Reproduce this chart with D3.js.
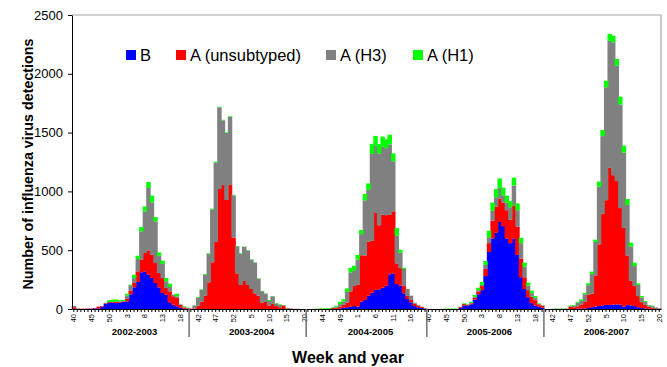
<!DOCTYPE html>
<html>
<head>
<meta charset="utf-8">
<script src="https://cdn.jsdelivr.net/npm/d3@7"></script>
<style>
  body { margin: 0; background: #fff; }
  svg { font-family: Arial, "Liberation Sans", sans-serif; }
</style>
</head>
<body>
<div id="chart"></div>
<script>
// seasons run from week 40 to week 20 of the next year
const seasons = ["2002-2003", "2003-2004", "2004-2005", "2005-2006", "2006-2007"];
const weeksInFirstYear = [52, 52, 53, 52, 52];
const yTicks = [0, 500, 1000, 1500, 2000, 2500];

// detections per week (one row of numbers per season)
const fluB = [
  0,0,0,0,2,3,5,5,20,45, 55,55,50,55,60,65,125,184,230,312, 320,292,264,221,184,136,122,57,37,23, 10,3,2,
  0,0,0,0,0,0,0,0,0,0, 0,0,0,0,0,0,0,0,0,0, 0,0,0,0,0,0,0,0,0,0, 0,0,0,
  0,0,0,0,0,0,0,0,2,5, 10,15,20,25,20,62,77,113,139,162, 167,181,198,295,303,212,198,133,85,57, 25,15,8,3,
  0,0,0,0,0,0,0,0,0,10, 30,30,40,80,125,160,280,485,600,650, 740,705,600,560,600,460,270,170,100,50, 30,20,10,
  0,0,0,0,0,0,0,0,0,3, 4,5,8,15,20,25,30,35,35,38, 38,38,20,35,30,25,15,8,5,3, 2,1,0
];
const fluA = [
  15,3,2,2,2,2,2,15,5,5, 5,5,10,5,5,20,30,37,90,108, 156,207,198,170,122,127,57,93,71,71, 25,10,5,
  3,5,28,62,113,227,397,570,1020,1054, 927,1054,606,303,204,238,204,170,133,113, 54,60,28,48,25,15,30,5,3,1, 1,0,0,
  0,0,0,0,0,0,2,8,10,15, 25,40,130,170,185,395,377,460,440,660, 545,620,600,505,528,176,150,62,26,20, 22,15,8,3,
  0,0,0,0,0,0,0,0,0,8, 12,5,8,15,25,35,60,75,150,220, 200,200,240,200,280,240,160,100,60,55, 45,20,18,
  0,0,0,0,0,2,2,20,15,20, 35,55,115,115,265,525,780,890,1165,1100, 1050,820,670,420,210,170,95,50,30,18, 10,5,3
];
const fluH3 = [
  12,2,0,0,0,0,0,0,0,0, 0,0,5,5,2,30,47,42,105,240, 354,530,445,354,147,120,57,37,14,14, 5,5,3,
  2,25,70,100,180,240,450,675,695,550, 570,580,360,230,266,290,293,250,262,145, 97,70,40,60,22,20,2,2,2,1, 0,0,0,
  0,0,0,0,0,0,0,3,8,22, 30,90,160,135,215,180,470,440,740,570, 610,580,570,600,425,235,130,145,59,36, 5,3,3,0,
  0,0,0,0,2,0,0,0,0,0, 0,2,4,8,10,10,35,50,85,80, 90,60,65,105,170,140,130,90,40,30, 20,3,4,
  0,0,2,2,0,0,0,5,12,30, 30,65,80,170,285,490,660,960,1080,1130, 980,880,640,430,290,170,95,40,25,10, 13,6,3
];
const fluH1 = [
  0,0,0,0,0,0,0,0,0,3, 15,20,15,10,10,15,5,28,28,37, 42,51,57,37,28,28,28,28,0,22, 0,5,3,
  0,2,5,5,5,6,6,8,5,5, 5,5,5,3,5,3,3,3,3,3, 3,3,8,2,4,5,2,3,0,0, 0,0,0,
  0,0,2,3,5,5,5,3,8,18, 18,30,40,38,40,35,55,55,85,80, 80,85,75,82,67,65,25,10,0,0, 2,1,1,0,
  0,0,0,0,0,3,3,3,3,2, 6,5,10,16,21,25,33,56,70,70, 80,67,58,53,67,58,46,34,24,21, 15,5,2,
  0,0,0,2,3,3,2,5,6,8, 12,12,15,18,20,43,52,56,58,56, 57,67,59,50,34,29,13,12,8,3, 3,2,0
];

const seriesNames = ["B", "A (unsubtyped)", "A (H3)", "A (H1)"];
const seriesColors = ["#0000ff", "#ff0000", "#808080", "#00ff00"];

// week number labels for every bar
const weeks = [];
const seasonStart = [];
weeksInFirstYear.forEach(n => {
  seasonStart.push(weeks.length);
  for (let w = 40; w <= n; w++) weeks.push(w);
  for (let w = 1; w <= 20; w++) weeks.push(w);
});
seasonStart.push(weeks.length);

const width = 667, height = 367;
const margin = { top: 15, right: 6, bottom: 58, left: 72 };

const svg = d3.select("#chart").append("svg")
  .attr("width", width)
  .attr("height", height);

const x = d3.scaleBand()
  .domain(d3.range(weeks.length))
  .range([margin.left, width - margin.right])
  .padding(0);

const y = d3.scaleLinear()
  .domain([0, 2500])
  .range([height - margin.bottom, margin.top]);

// grey frame on top and right
svg.append("path")
  .attr("d", `M${x.range()[0]},${y(2500)}H${x.range()[1]}V${y(0)}`)
  .attr("fill", "none")
  .attr("stroke", "#a8a8a8")
  .attr("stroke-width", 1.2);

// stacked bars
const rows = weeks.map((w, i) => ({ i: i, s0: fluB[i], s1: fluA[i], s2: fluH3[i], s3: fluH1[i] }));
const keys = ["s0", "s1", "s2", "s3"];
const stacked = d3.stack().keys(keys)(rows);

svg.append("g")
  .selectAll("g")
  .data(stacked)
  .join("g")
  .attr("fill", (d, k) => seriesColors[k])
  .selectAll("rect")
  .data(d => d)
  .join("rect")
  .attr("x", d => x(d.data.i) - 0.3)
  .attr("width", x.bandwidth() + 0.9)
  .attr("y", d => y(d[1]))
  .attr("height", d => y(d[0]) - y(d[1]));

// x axis with week labels every 5 weeks
const xAxis = d3.axisBottom(x)
  .tickSize(3)
  .tickSizeOuter(0)
  .tickFormat(i => (i % 5 === 0 ? weeks[i] : ""));

svg.append("g")
  .attr("transform", `translate(0,${y(0)})`)
  .call(xAxis)
  .call(g => g.selectAll("text")
    .attr("transform", "rotate(-90)")
    .attr("x", -5)
    .attr("y", 0)
    .attr("dy", "0.35em")
    .style("text-anchor", "end")
    .attr("font-size", 7.5)
    .attr("font-family", "Arial, 'Liberation Sans', sans-serif"));

// y axis
svg.append("g")
  .attr("transform", `translate(${x.range()[0]},0)`)
  .call(d3.axisLeft(y).tickValues(yTicks).tickFormat(d3.format("d"))
    .tickSize(4).tickSizeOuter(0).tickPadding(5))
  .call(g => g.selectAll("text")
    .attr("font-size", 13)
    .attr("fill", "#000")
    .attr("font-family", "Arial, 'Liberation Sans', sans-serif"));

// season separators and labels
svg.append("g")
  .selectAll("line")
  .data(seasonStart.slice(1, -1))
  .join("line")
  .attr("x1", d => x(d))
  .attr("x2", d => x(d))
  .attr("y1", y(0))
  .attr("y2", y(0) + 28)
  .attr("stroke", "#707070")
  .attr("stroke-width", 1.5);

svg.append("g")
  .selectAll("text")
  .data(seasons)
  .join("text")
  .attr("x", (d, k) => (x(seasonStart[k]) + x(seasonStart[k + 1] - 1) + x.bandwidth()) / 2 + 4)
  .attr("y", y(0) + 26)
  .attr("text-anchor", "middle")
  .attr("font-size", 9.5)
  .attr("font-weight", "bold")
  .text(d => d);

// axis titles
svg.append("text")
  .attr("transform", `translate(33,${(y(0) + y(2500)) / 2 + 2}) rotate(-90)`)
  .attr("text-anchor", "middle")
  .attr("font-size", 14.3)
  .attr("font-weight", "bold")
  .text("Number of influenza virus detections");

svg.append("text")
  .attr("x", 348)
  .attr("y", 363)
  .attr("text-anchor", "middle")
  .attr("font-size", 16)
  .attr("font-weight", "bold")
  .text("Week and year");

// legend
const legendX = [126, 176, 326, 413];
const legend = svg.append("g")
  .selectAll("g")
  .data(seriesNames)
  .join("g")
  .attr("transform", (d, k) => `translate(${legendX[k]},50)`);
legend.append("rect")
  .attr("width", 10)
  .attr("height", 10)
  .attr("fill", (d, k) => seriesColors[k]);
legend.append("text")
  .attr("x", 14)
  .attr("y", 10.5)
  .attr("font-size", 16.5)
  .text(d => d);
</script>
</body>
</html>
